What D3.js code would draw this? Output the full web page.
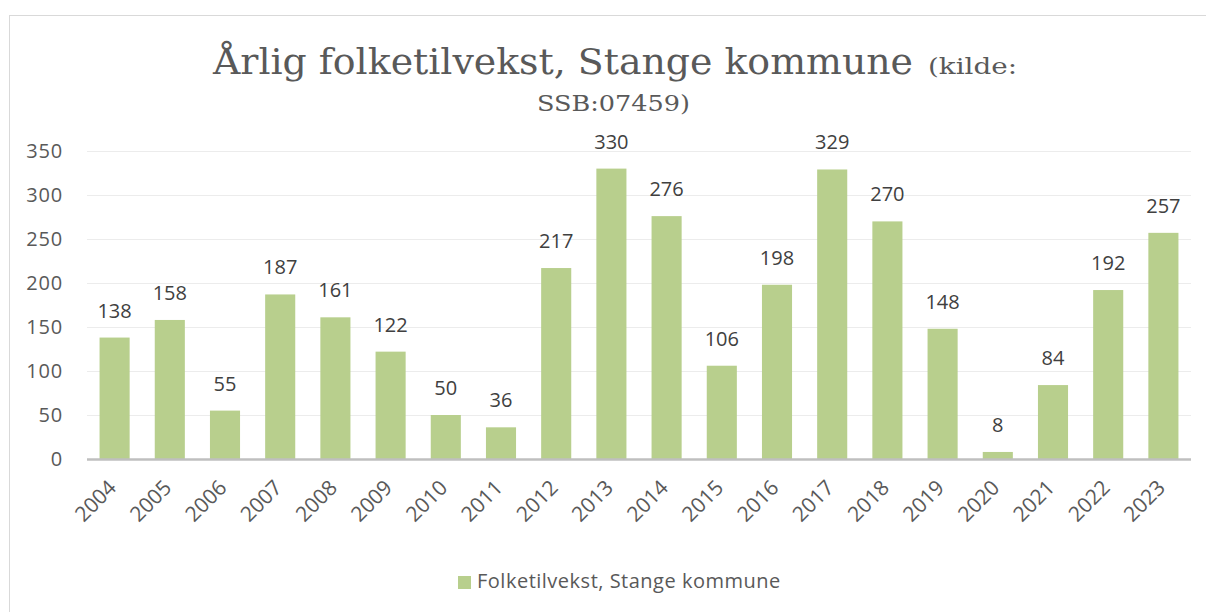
<!DOCTYPE html>
<html>
<head>
<meta charset="utf-8">
<script src="https://cdn.jsdelivr.net/npm/d3@7"></script>
<style>
  html, body { margin: 0; padding: 0; background: #ffffff; }
  svg { display: block; }
</style>
</head>
<body>
<svg id="chart" width="1206" height="612"></svg>
<script>
const categories = ["2004","2005","2006","2007","2008","2009","2010","2011","2012","2013","2014","2015","2016","2017","2018","2019","2020","2021","2022","2023"];
const values = [138,158,55,187,161,122,50,36,217,330,276,106,198,329,270,148,8,84,192,257];
const yTicks = [0,50,100,150,200,250,300,350];
const seriesName = "Folketilvekst, Stange kommune";
const titleMain = "Årlig folketilvekst, Stange kommune";
const titleSmall = "(kilde:";
const titleLine2 = "SSB:07459)";

const svg = d3.select("#chart");
const W = 1206, H = 612;
const barColor = "#b8cf8d";
const sans = "'Open Sans', 'Noto Sans', sans-serif";
const serif = "'DejaVu Serif', 'Liberation Serif', serif";

// chart area border (extends beyond the view)
svg.append("rect").attr("x", 9.5).attr("y", 15.5).attr("width", W + 20).attr("height", H + 20)
  .attr("fill", "#ffffff").attr("stroke", "#d9d9d9").attr("stroke-width", 1);

const x = d3.scaleBand().domain(categories).range([87, 1191]).paddingInner(0.455).paddingOuter(0.2275);
const y = d3.scaleLinear().domain([0, 350]).range([459, 151]);

// gridlines
svg.append("g").selectAll("line").data(yTicks.filter(d => d > 0)).join("line")
  .attr("x1", 87).attr("x2", 1191)
  .attr("y1", d => y(d) + 0.5).attr("y2", d => y(d) + 0.5)
  .attr("stroke", "#ececec").attr("stroke-width", 1);

// y axis labels
const yAxis = d3.axisLeft(y).tickValues(yTicks).tickSize(0).tickPadding(0);
const yg = svg.append("g").attr("transform", "translate(63,0)").call(yAxis);
yg.select(".domain").remove();
yg.selectAll("text").attr("font-family", sans).attr("font-size", 20).attr("fill", "#595959")
  .attr("letter-spacing", 0.8).attr("dy", "0.34em");

// bars
svg.append("g").selectAll("rect").data(values).join("rect")
  .attr("x", (d, i) => x(categories[i]))
  .attr("width", x.bandwidth())
  .attr("y", d => y(d))
  .attr("height", d => y(0) - y(d))
  .attr("fill", barColor);

// x axis line
svg.append("line").attr("x1", 87).attr("x2", 1191).attr("y1", 459.5).attr("y2", 459.5)
  .attr("stroke", "#bfbfbf").attr("stroke-width", 2.5);

// x axis labels
const xAxis = d3.axisBottom(x).tickSize(0).tickPadding(0);
const xg = svg.append("g").call(xAxis);
xg.select(".domain").remove();
xg.selectAll(".tick").attr("transform", d => `translate(${x(d) + x.bandwidth() / 2 + 3},489)`);
xg.selectAll("text")
  .attr("font-family", sans).attr("font-size", 21).attr("fill", "#595959")
  .attr("text-anchor", "end").attr("x", 0).attr("y", 0).attr("dy", 0)
  .attr("transform", "rotate(-45)");

// value labels
svg.append("g").selectAll("text").data(values).join("text")
  .attr("x", (d, i) => x(categories[i]) + x.bandwidth() / 2)
  .attr("y", d => y(d) - 20)
  .attr("text-anchor", "middle")
  .attr("font-family", sans).attr("font-size", 20).attr("fill", "#404040")
  .text(d => d);

// title
const t = svg.append("text").attr("y", 74).attr("font-family", serif).attr("fill", "#595959");
t.append("tspan").attr("x", 213).attr("font-size", 35)
  .attr("textLength", 700).attr("lengthAdjust", "spacingAndGlyphs").text(titleMain);
t.append("tspan").attr("x", 928).attr("font-size", 22)
  .attr("textLength", 89).attr("lengthAdjust", "spacingAndGlyphs").text(titleSmall);
svg.append("text").attr("x", 537).attr("y", 111)
  .attr("font-family", serif).attr("font-size", 22).attr("fill", "#595959")
  .attr("textLength", 153).attr("lengthAdjust", "spacingAndGlyphs").text(titleLine2);

// legend
const lg = svg.append("g");
lg.append("rect").attr("x", 458).attr("y", 576).attr("width", 13).attr("height", 13).attr("fill", barColor);
lg.append("text").attr("x", 477).attr("y", 588).attr("font-family", sans).attr("font-size", 20)
  .attr("letter-spacing", 0.5).attr("fill", "#595959").text(seriesName);
</script>
</body>
</html>
